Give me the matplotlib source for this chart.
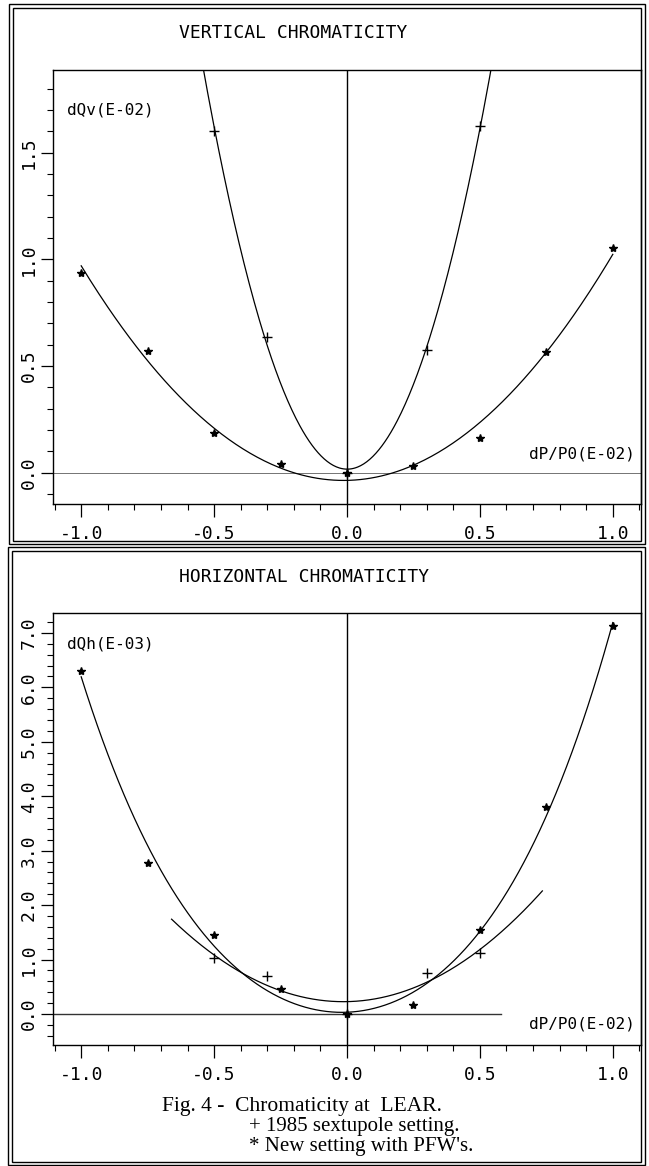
import matplotlib
matplotlib.use("Agg")
import matplotlib.pyplot as plt
import numpy as np
from matplotlib.patches import Rectangle
from matplotlib.ticker import MultipleLocator, FormatStrFormatter

# --- data (dP/P0 in E-02) ---
v_star_x = [-1.0, -0.75, -0.5, -0.25, 0.0, 0.25, 0.5, 0.75, 1.0]
v_star_y = [0.936, 0.571, 0.185, 0.040, 0.0, 0.033, 0.161, 0.568, 1.053]
v_plus_x = [-0.5, -0.3, 0.0, 0.3, 0.5]
v_plus_y = [1.60, 0.638, 0.0, 0.573, 1.625]

h_star_x = [-1.0, -0.75, -0.5, -0.25, 0.0, 0.25, 0.5, 0.75, 1.0]
h_star_y = [6.30, 2.77, 1.45, 0.46, 0.0, 0.16, 1.55, 3.80, 7.12]
h_plus_x = [-0.5, -0.3, 0.0, 0.3, 0.5]
h_plus_y = [1.02, 0.70, 0.0, 0.76, 1.12]

x_ticks = [-1.0, -0.5, 0.0, 0.5, 1.0]
v_yticks = [0.0, 0.5, 1.0, 1.5]
h_yticks = [0.0, 1.0, 2.0, 3.0, 4.0, 5.0, 6.0, 7.0]

W, H = 649, 1166
MONO = "DejaVu Sans Mono"
plt.rcParams["axes.unicode_minus"] = False
plt.rcParams["font.family"] = MONO


def fx(px):
    return px / W


def fy(py):
    return 1 - py / H


def fit_curve(x, y, deg, x0, x1):
    """Least squares polynomial through the measured points, like the original fit."""
    coef = np.polyfit(x, y, deg)
    xs = np.linspace(x0, x1, 300)
    return xs, np.polyval(coef, xs)


def frame(fig, x0, y0, x1, y1):
    for d in (0, 3.5):
        fig.add_artist(Rectangle((fx(x0 + d), fy(y1 - d)), fx(x1 - x0 - 2 * d), (y1 - y0 - 2 * d) / H,
                                 transform=fig.transFigure, fill=False, lw=1.0, ec="black"))


def style_axes(ax, ylim, yticks, yminor):
    ax.set_xlim(-1.105, 1.105)
    ax.set_ylim(*ylim)
    ax.set_xticks(x_ticks)
    ax.set_yticks(yticks)
    ax.xaxis.set_minor_locator(MultipleLocator(0.1))
    ax.yaxis.set_minor_locator(MultipleLocator(yminor))
    ax.xaxis.set_major_formatter(FormatStrFormatter("%.1f"))
    ax.yaxis.set_major_formatter(FormatStrFormatter("%.1f"))
    ax.tick_params(which="major", direction="out", length=9, width=0.9, labelsize=13)
    ax.tick_params(which="minor", direction="out", length=4.5, width=0.8)
    ax.tick_params(axis="x", pad=6)
    ax.tick_params(axis="y", pad=2)
    for lab in ax.get_yticklabels():
        lab.set_rotation(90)
        lab.set_va("center")
    for sp in ax.spines.values():
        sp.set_linewidth(1.0)
    ax.axvline(0, color="black", lw=1.0)


fig = plt.figure(figsize=(W / 100, H / 100), dpi=100)

# --- vertical chromaticity ---
ax1 = fig.add_axes([fx(53.3), fy(504), fx(640.7 - 53.3), (504 - 70) / H])
style_axes(ax1, (-0.147, 1.888), v_yticks, 0.1)
ax1.axhline(0, color="0.45", lw=0.7)
xs, ys = fit_curve(v_star_x, v_star_y, 2, -1.0, 1.0)
ax1.plot(xs, ys, color="black", lw=0.9)
xs, ys = fit_curve(v_plus_x, v_plus_y, 2, -0.57, 0.57)
ax1.plot(xs, ys, color="black", lw=0.9)
ax1.plot(v_star_x, v_star_y, ls="none", marker="*", ms=6, color="black")
ax1.plot(v_plus_x, v_plus_y, ls="none", marker="+", ms=7, mew=1.0, color="black")
ax1.text(0.023, 0.908, "dQv(E-02)", transform=ax1.transAxes, fontsize=11.5, va="center")
ax1.text(0.99, (504 - 454) / 434, "dP/P0(E-02)", transform=ax1.transAxes, fontsize=11.5,
         ha="right", va="center")

# --- horizontal chromaticity ---
ax2 = fig.add_axes([fx(53.3), fy(1045), fx(640.7 - 53.3), (1045 - 613.3) / H])
style_axes(ax2, (-0.57, 7.36), h_yticks, 0.2)
ax2.plot([-1.105, 0.578], [0, 0], color="0.2", lw=1.0)
xs, ys = fit_curve(h_star_x, h_star_y, 4, -1.0, 1.0)
ax2.plot(xs, ys, color="black", lw=0.9)
xs, ys = fit_curve(h_plus_x, h_plus_y, 2, -0.66, 0.735)
ax2.plot(xs, ys, color="black", lw=0.9)
ax2.plot(h_star_x, h_star_y, ls="none", marker="*", ms=6, color="black")
ax2.plot(h_plus_x, h_plus_y, ls="none", marker="+", ms=7, mew=1.0, color="black")
ax2.text(0.023, (1045 - 644) / 431.7, "dQh(E-03)", transform=ax2.transAxes, fontsize=11.5, va="center")
ax2.text(0.99, (1045 - 1024) / 431.7, "dP/P0(E-02)", transform=ax2.transAxes, fontsize=11.5,
         ha="right", va="center")

# --- panel frames and titles ---
frame(fig, 9, 4, 644.5, 544)
frame(fig, 8, 547, 644.5, 1165)
fig.text(fx(293), fy(33), "VERTICAL CHROMATICITY", ha="center", va="center", fontsize=13)
fig.text(fx(304), fy(577), "HORIZONTAL CHROMATICITY", ha="center", va="center", fontsize=13)

serif = "Liberation Serif"
fig.text(fx(162), fy(1107), "Fig. 4 -  Chromaticity at  LEAR.", family=serif, fontsize=15.5, va="center")
fig.text(fx(249), fy(1127), "+ 1985 sextupole setting.", family=serif, fontsize=15, va="center")
fig.text(fx(249), fy(1146), "* New setting with PFW's.", family=serif, fontsize=15, va="center")

fig.savefig("out.png", dpi=100)
